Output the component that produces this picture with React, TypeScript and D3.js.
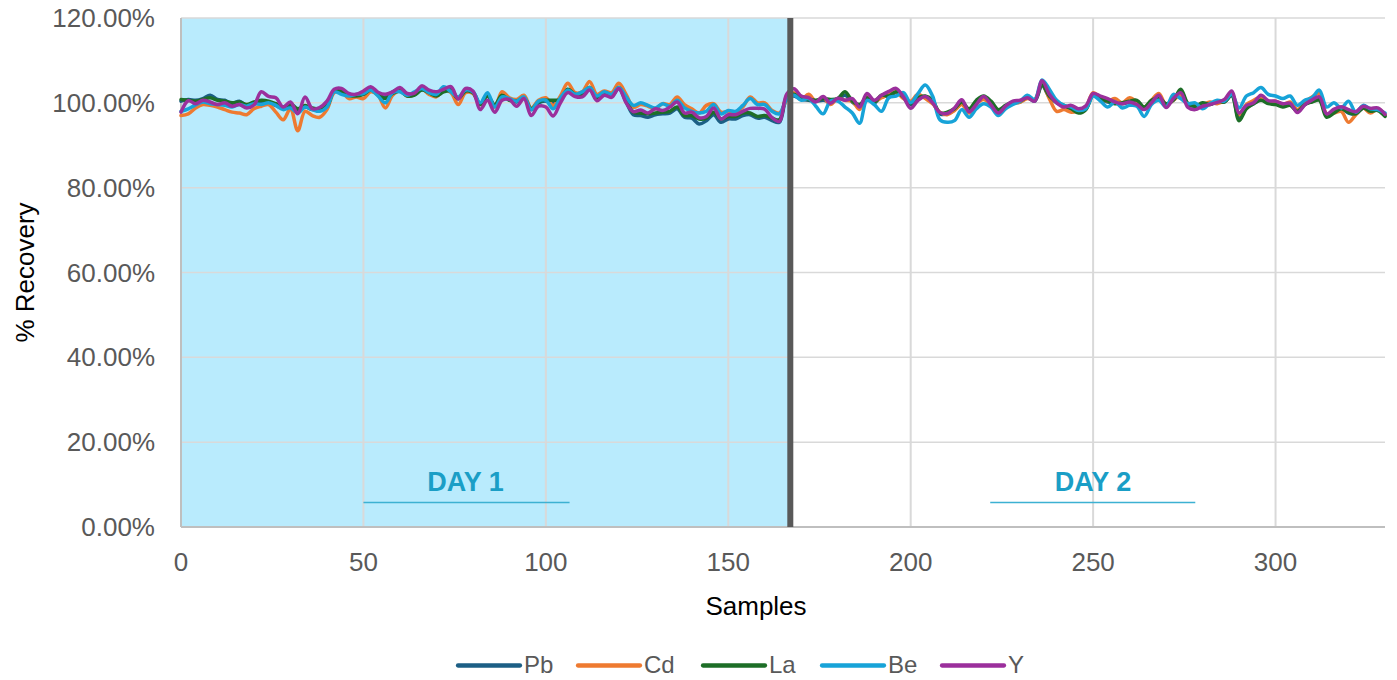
import React from "react";
import * as d3 from "d3";

// Sample indexes (every second sample, 0..330)
const samples: number[] = d3.range(0, 331, 2);

const seriesNames = ["Pb", "Cd", "La", "Be", "Y"];
const seriesColors = ["#1c5f85", "#ee7a30", "#1d6e27", "#17a3d8", "#9b2f9c"];

const pbValues = [
  100.4,100.8,100.6,101.0,101.8,100.8,100.6,99.8,100.4,99.4,
  100.0,100.2,100.0,99.4,98.6,99.4,98.0,99.0,98.4,98.2,
  99.4,103.0,103.0,102.0,101.8,102.4,103.2,102.2,101.2,102.6,
  103.2,102.0,102.0,103.4,102.6,102.0,103.0,103.2,101.0,102.8,
  102.6,99.8,101.8,99.2,101.6,100.8,100.2,101.4,98.4,100.0,
  100.4,99.8,100.6,103.0,101.8,101.8,103.4,101.0,102.0,101.6,
  103.4,100.2,97.2,97.0,96.6,97.2,97.4,97.6,98.6,96.6,
  96.4,95.0,95.8,97.2,95.4,96.2,96.2,97.0,97.2,96.4,
  96.6,95.8,95.4,101.0,101.6,100.8,100.6,100.4,100.6,100.4,
  100.8,101.8,100.2,99.2,101.0,100.0,101.4,101.6,102.4,101.2,
  99.6,101.0,101.4,100.2,97.4,97.4,98.4,100.0,98.2,100.2,
  101.2,100.0,98.0,99.2,100.0,100.2,101.2,100.4,104.0,101.4,
  100.0,99.2,98.6,97.8,98.6,101.8,100.8,100.2,100.0,99.8,
  100.2,100.4,98.8,100.4,101.2,99.6,100.8,102.8,99.6,99.2,
  99.8,99.6,100.2,100.2,101.8,96.4,98.8,99.8,100.8,100.0,
  99.8,99.2,99.6,98.0,99.6,100.4,101.0,97.0,97.8,98.6,
  97.6,97.4,98.8,98.2,98.4,97.0,
];

const cdValues = [
  97.0,97.4,98.8,99.6,99.4,99.0,98.4,97.8,97.6,97.2,
  98.6,99.2,99.6,97.8,96.0,98.6,93.4,98.0,97.0,96.6,
  98.4,102.4,102.6,101.0,101.4,101.0,102.6,101.8,98.8,101.8,
  102.8,101.6,102.0,103.2,102.0,101.4,103.0,102.4,99.6,102.4,
  102.2,99.6,101.8,99.0,102.6,101.2,100.8,101.8,98.8,100.6,
  101.2,99.4,101.6,104.6,102.4,102.6,105.0,102.0,102.8,102.4,
  104.6,102.0,99.0,99.6,99.2,98.6,99.8,99.6,101.4,99.6,
  98.6,97.6,99.4,99.8,97.8,98.0,97.8,99.0,101.4,100.0,
  100.0,98.2,97.6,100.6,102.4,100.8,102.0,100.4,101.2,99.6,
  101.0,100.6,100.4,98.4,101.8,100.4,101.2,102.0,102.6,101.0,
  100.4,102.0,101.0,99.8,97.8,97.2,98.2,99.6,97.6,99.8,
  100.8,99.4,97.2,98.8,99.8,100.2,101.0,100.8,104.4,101.0,
  98.0,98.4,97.8,98.2,99.0,102.4,101.2,100.4,101.0,100.0,
  101.2,100.2,99.0,100.6,102.2,99.6,100.6,101.8,99.8,99.4,
  99.6,100.2,99.8,100.6,102.4,97.2,99.6,100.6,101.4,100.2,
  100.4,99.6,100.2,98.4,100.2,101.4,102.2,97.4,97.6,98.0,
  95.4,97.2,98.8,97.6,98.6,97.2,
];

const laValues = [
  100.8,100.6,100.4,100.8,101.2,100.6,100.4,100.0,100.2,99.6,
  100.2,100.6,100.4,99.8,99.0,99.8,98.6,99.4,98.8,98.6,
  99.2,102.8,102.6,101.8,101.6,102.0,103.0,102.0,101.0,102.2,
  102.8,101.6,101.8,103.0,102.4,101.6,102.6,102.8,101.0,102.8,
  102.4,99.6,101.6,99.6,101.8,100.6,100.4,101.2,98.6,100.2,
  100.6,100.6,100.8,103.2,102.0,101.8,103.6,101.0,102.2,101.6,
  103.6,100.6,97.8,97.6,97.4,97.6,97.8,98.0,99.0,97.0,
  97.0,96.2,96.4,97.8,96.2,96.8,96.8,97.6,97.6,96.8,
  97.0,96.4,96.0,101.4,102.0,101.0,100.8,100.6,101.0,100.8,
  101.0,102.6,100.4,99.6,101.2,100.2,101.8,101.6,102.6,101.4,
  99.8,101.2,101.6,100.6,97.6,97.8,98.6,100.2,98.6,100.6,
  101.6,100.4,98.4,99.4,100.2,100.4,101.4,100.6,104.2,101.6,
  100.2,99.4,98.6,97.6,98.4,101.8,101.0,100.4,99.8,100.0,
  100.4,100.6,99.0,100.6,101.2,99.8,100.6,103.2,99.8,99.2,
  100.0,99.6,100.4,100.2,101.8,95.8,98.6,99.8,100.6,99.8,
  99.6,99.0,99.4,98.0,99.6,100.2,100.6,96.6,97.6,98.6,
  97.8,97.4,98.8,98.0,98.2,96.8,
];

const beValues = [
  98.0,98.6,99.5,100.2,99.8,99.6,99.4,99.0,99.6,99.2,
  99.8,99.6,100.0,99.4,98.4,98.8,97.6,99.0,98.4,98.0,
  99.0,102.6,102.0,101.6,102.0,102.2,103.0,101.6,100.0,102.4,
  102.6,101.8,102.6,103.4,102.4,102.0,103.8,102.6,101.4,103.0,
  102.6,100.0,102.4,99.0,101.4,101.0,100.4,101.4,98.4,100.4,
  100.6,98.6,101.2,103.0,102.0,102.6,103.6,101.6,102.6,102.0,
  103.6,101.4,99.4,100.0,99.4,98.8,99.8,99.2,100.6,98.8,
  98.0,97.6,98.0,99.6,97.4,98.2,98.0,99.4,101.0,99.6,
  99.6,98.0,97.4,100.8,101.8,100.6,101.0,99.2,97.4,100.4,
  100.4,99.0,97.6,95.2,100.6,99.6,98.0,101.2,101.6,102.4,
  100.0,102.2,104.2,101.6,96.0,95.4,95.8,98.4,96.6,98.6,
  99.8,99.0,97.0,98.6,99.6,100.4,101.8,100.8,105.4,103.2,
  100.6,99.4,99.0,98.2,98.6,101.6,100.4,99.0,100.2,98.8,
  99.4,99.2,96.8,99.6,100.6,99.0,102.0,101.0,99.8,100.0,
  98.6,99.8,100.6,100.4,102.0,98.8,101.6,102.4,103.6,102.0,
  101.6,101.0,101.6,99.4,100.6,101.2,103.0,99.0,100.0,98.8,
  100.4,97.8,99.4,98.6,98.4,97.6,
];

const yValues = [
  97.8,100.5,99.8,100.6,100.2,99.6,100.0,99.2,99.6,98.8,
  99.5,102.6,101.5,101.2,99.0,100.2,97.4,101.4,98.6,98.9,
  100.4,103.2,103.4,102.2,102.0,102.8,103.8,102.5,102.0,102.6,
  103.6,102.2,102.3,104.0,103.0,102.6,103.2,103.8,100.9,103.4,
  102.8,98.4,100.6,97.8,100.6,100.8,99.2,101.0,97.0,99.2,
  99.0,96.9,100.0,102.4,101.5,101.4,103.0,100.5,101.8,101.3,
  103.4,100.0,97.9,98.3,97.6,98.6,98.2,99.0,100.2,97.6,
  97.8,96.5,96.8,98.8,96.2,97.2,97.2,98.0,98.7,98.7,
  98.5,96.5,95.6,102.0,103.3,101.6,101.2,100.2,101.5,99.9,
  101.1,100.6,101.0,99.0,102.2,100.6,101.8,102.7,103.4,101.4,
  98.7,100.6,101.5,100.0,97.7,97.5,98.8,100.7,97.9,99.6,
  101.5,99.5,97.6,99.2,100.4,100.6,101.2,100.4,105.2,102.0,
  100.0,99.0,99.4,98.6,99.3,102.2,101.6,101.0,100.2,99.8,
  100.2,99.6,98.4,100.0,101.8,98.9,101.0,102.4,98.9,98.4,
  99.2,99.6,100.1,100.8,102.8,97.6,99.4,100.0,101.8,100.5,
  100.4,99.8,99.9,97.7,99.5,100.7,101.4,97.4,98.5,99.1,
  98.4,97.9,99.2,98.7,98.8,97.3,
];

const seriesValues = [pbValues, cdValues, laValues, beValues, yValues];

const yTicks = [0, 0.2, 0.4, 0.6, 0.8, 1.0, 1.2];
const xTicks = [0, 50, 100, 150, 200, 250, 300];
const dayBoundary = 167;
const dayLabels = [
  { text: "DAY 1", center: 78, from: 50, to: 106.5 },
  { text: "DAY 2", center: 250, from: 221.8, to: 278 },
];

export default function App() {
  const W = 1397, H = 680;
  const left = 181, right = 1385, top = 18, bottom = 527;
  const x = d3.scaleLinear().domain([0, 330]).range([left, right]);
  const y = d3.scaleLinear().domain([0, 1.2]).range([bottom, top]);
  const line = d3
    .line<[number, number]>()
    .x((d) => x(d[0]))
    .y((d) => y(d[1] / 100))
    .curve(d3.curveCatmullRom.alpha(0.5));
  const font = "'Liberation Sans', Arial, sans-serif";
  const txt = "#595959";

  const legendStarts = [458, 578, 703, 822, 942];

  return (
    <svg
      width={W}
      height={H}
      style={{ position: "absolute", left: 0, top: 0, background: "#fff" }}
      fontFamily={font}
    >
      {/* Day 1 shading */}
      <rect x={x(0)} y={top} width={x(dayBoundary) - x(0)} height={bottom - top} fill="#b9ebfd" />
      {/* gridlines */}
      {yTicks.map((t) => (
        <line key={"gy" + t} x1={left} x2={right} y1={y(t)} y2={y(t)} stroke="#d9d9d9" strokeWidth={1.5} />
      ))}
      {xTicks.map((t) => (
        <line key={"gx" + t} x1={x(t)} x2={x(t)} y1={top} y2={bottom} stroke="#d9d9d9" strokeWidth={2} />
      ))}
      {/* axes */}
      <line x1={left} x2={left} y1={top} y2={bottom} stroke="#bfbfbf" strokeWidth={2} />
      <line x1={left} x2={right} y1={bottom} y2={bottom} stroke="#bfbfbf" strokeWidth={2} />

      {/* day labels */}
      {dayLabels.map((d) => (
        <g key={d.text}>
          <text
            x={x(d.center)}
            y={491}
            textAnchor="middle"
            fontSize={27}
            fontWeight="bold"
            fill="#1a9ec6"
          >
            {d.text}
          </text>
          <line x1={x(d.from)} x2={x(d.to)} y1={502.5} y2={502.5} stroke="#3cb1d2" strokeWidth={1.5} />
        </g>
      ))}

      {/* series */}
      {seriesValues.map((vals, i) => (
        <path
          key={seriesNames[i]}
          d={line(vals.map((v, j) => [samples[j], v] as [number, number])) || ""}
          fill="none"
          stroke={seriesColors[i]}
          strokeWidth={3.5}
          strokeLinejoin="round"
          strokeLinecap="round"
        />
      ))}

      {/* day separator */}
      <line x1={x(dayBoundary)} x2={x(dayBoundary)} y1={top} y2={bottom} stroke="#595959" strokeWidth={6} />

      {/* y tick labels */}
      {yTicks.map((t) => (
        <text key={"yl" + t} x={155} y={y(t)} dy="0.35em" textAnchor="end" fontSize={26} fill={txt}>
          {(t * 100).toFixed(2) + "%"}
        </text>
      ))}
      {/* x tick labels */}
      {xTicks.map((t) => (
        <text key={"xl" + t} x={x(t)} y={562} dy="0.35em" textAnchor="middle" fontSize={26} fill={txt}>
          {t}
        </text>
      ))}
      {/* axis titles */}
      <text x={756} y={606} dy="0.35em" textAnchor="middle" fontSize={26} fill="#000">
        Samples
      </text>
      <text
        transform={`translate(25, ${(top + bottom) / 2}) rotate(-90)`}
        dy="0.35em"
        textAnchor="middle"
        fontSize={26}
        fill="#000"
      >
        % Recovery
      </text>

      {/* legend */}
      {legendStarts.map((x0, i) => (
        <g key={"lg" + i}>
          <line x1={x0} x2={x0 + 62} y1={665.5} y2={665.5} stroke={seriesColors[i]} strokeWidth={4.3} strokeLinecap="round" />
          <text x={x0 + 66} y={665} dy="0.35em" fontSize={24} fill={txt}>
            {seriesNames[i]}
          </text>
        </g>
      ))}
    </svg>
  );
}
